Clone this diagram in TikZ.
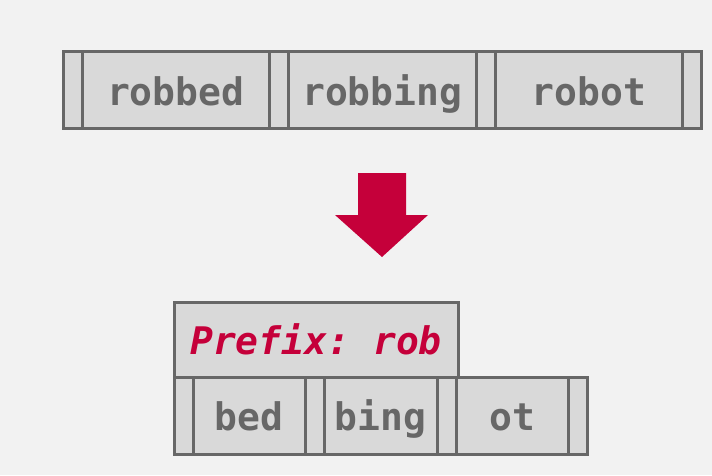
\documentclass[tikz,border=0pt]{standalone}
\usepackage{fontspec}
\setmonofont{DejaVu Sans Mono}
\usetikzlibrary{positioning}
\definecolor{bg}{HTML}{F2F2F2}
\definecolor{cellfill}{HTML}{D9D9D9}
\definecolor{cellline}{HTML}{676767}
\definecolor{crimson}{HTML}{C5003A}
\tikzstyle{gap}=[rectangle,draw=cellline,fill=cellfill,line width=3pt,outer sep=0pt,inner sep=0pt,minimum width=19pt,minimum height=76pt]
\tikzstyle{key}=[gap,minimum width=187.5pt,text=cellline,font=\fontsize{38}{40}\selectfont\ttfamily\bfseries,text height=30pt,text depth=0pt]
\tikzstyle{sgap}=[gap,minimum height=77pt]
\tikzstyle{suffix}=[key,minimum width=112.5pt,minimum height=77pt]

\begin{document}
\begin{tikzpicture}[x=1pt,y=1pt]
\fill[bg] (0,0) rectangle (712,475);
\useasboundingbox (0,0) rectangle (712,475);
% original keys
\node[gap] (g1) at (72.5,385) {};
\node[key,right=0pt of g1] (k1) {robbed};
\node[gap,right=0pt of k1] (g2) {};
\node[key,right=0pt of g2] (k2) {robbing};
\node[gap,right=0pt of k2] (g3) {};
\node[key,right=0pt of g3] (k3) {robot};
\node[gap,right=0pt of k3] (g4) {};
% arrow
\fill[crimson] (358,302) -- (406,302) -- (406,260) -- (428,260) -- (382,218) -- (335,260) -- (358,260) -- cycle;
% compressed keys
\node[sgap] (h1) at (183.5,59.5) {};
\node[suffix,right=0pt of h1] (s1) {bed};
\node[sgap,right=0pt of s1] (h2) {};
\node[suffix,right=0pt of h2] (s2) {bing};
\node[sgap,right=0pt of s2] (h3) {};
\node[suffix,right=0pt of h3] (s3) {ot};
\node[sgap,right=0pt of s3] (h4) {};
\node[key,minimum width=284pt,minimum height=75pt,anchor=south west,text=crimson,font=\fontsize{38}{40}\selectfont\ttfamily\bfseries\itshape] (pre) at (h1.north west) {Prefix: rob};
\end{tikzpicture}
\end{document}
